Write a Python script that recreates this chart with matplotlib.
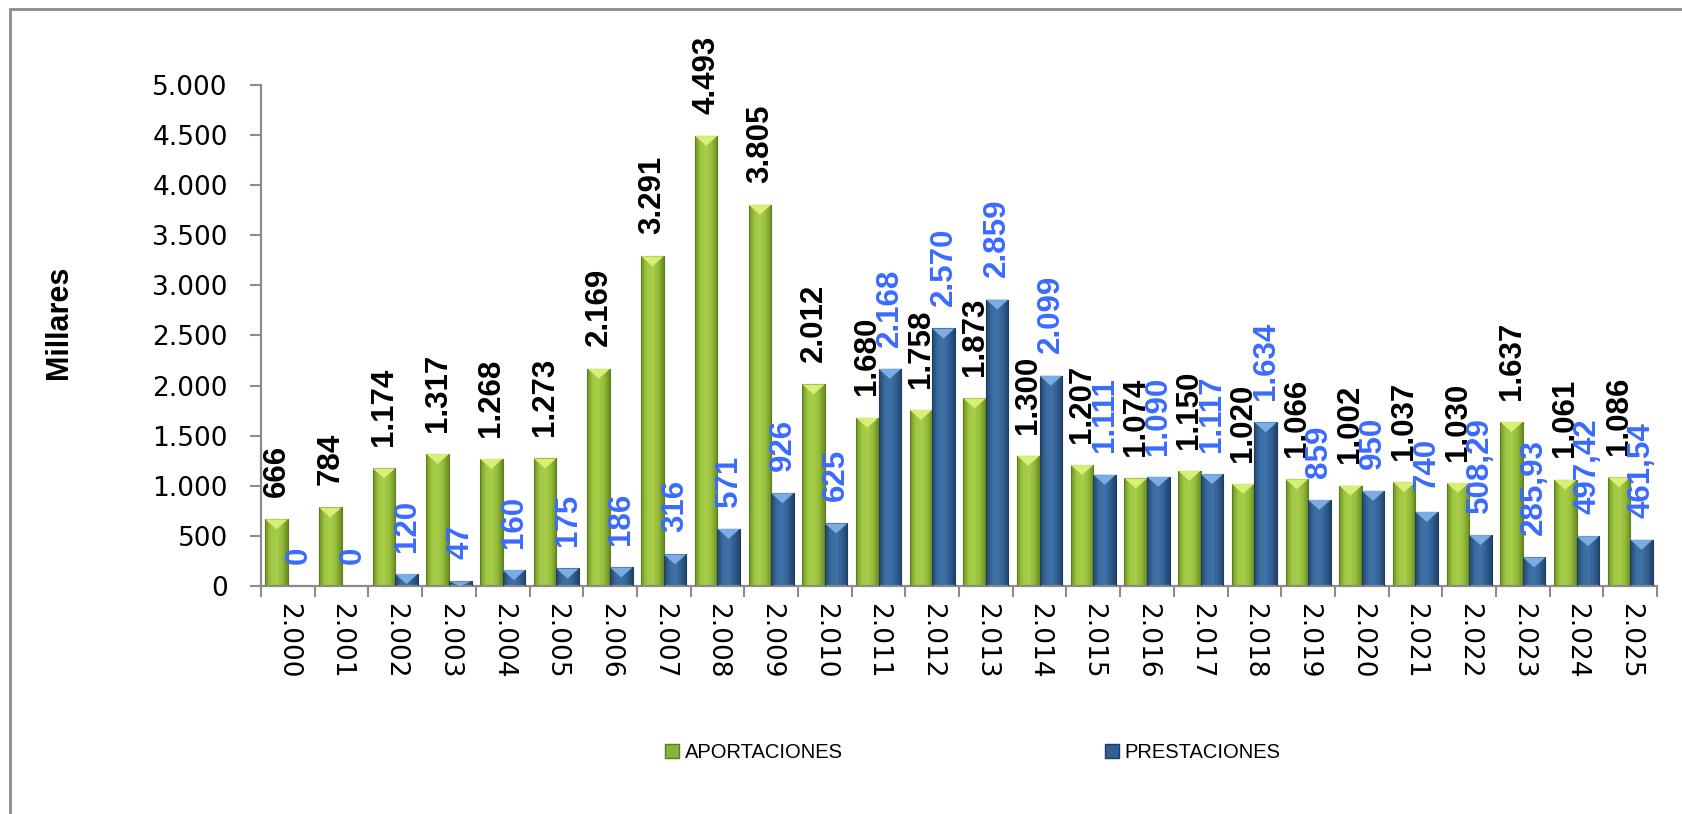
import numpy as np
import matplotlib
matplotlib.use("Agg")
import matplotlib.pyplot as plt
from matplotlib.patches import Rectangle, Polygon
from matplotlib.colors import LinearSegmentedColormap

# Datos (miles de euros)
years = list(range(2000, 2026))
aportaciones = [666, 784, 1174, 1317, 1268, 1273, 2169, 3291, 4493, 3805, 2012,
                1680, 1758, 1873, 1300, 1207, 1074, 1150, 1020, 1066, 1002,
                1037, 1030, 1637, 1061, 1086]
prestaciones = [0, 0, 120, 47, 160, 175, 186, 316, 571, 926, 625,
                2168, 2570, 2859, 2099, 1111, 1090, 1117, 1634, 859, 950,
                740, 508.29, 285.93, 497.42, 461.54]
y_ticks = [0, 500, 1000, 1500, 2000, 2500, 3000, 3500, 4000, 4500, 5000]
series_names = ["APORTACIONES", "PRESTACIONES"]


def es_num(v):
    # formato español: punto de miles, coma decimal
    if float(v).is_integer():
        return f"{int(v):,}".replace(",", ".")
    s = f"{v:,.2f}"
    return s.replace(",", "X").replace(".", ",").replace("X", ".")


GRAY = "#8c8c8c"
green_cmap = LinearSegmentedColormap.from_list(
    "g", ["#6f9324", "#a0c842", "#a8ce4a", "#94bb3a", "#6a8c21"])
blue_cmap = LinearSegmentedColormap.from_list(
    "b", ["#22466f", "#3a6ca0", "#3f72a8", "#315f92", "#21436b"])

fig = plt.figure(figsize=(16.83, 8.14), dpi=100)
ax = fig.add_axes([0.1551, 0.2801, 0.8295, 0.6155])

x = np.arange(len(years))
w = 0.42
bevel = 100

series = [
    (aportaciones, -w / 2, green_cmap, "#5d7d1c", "#dcf27a", "black"),
    (prestaciones, w / 2, blue_cmap, "#1f3d61", "#7fb0e8", "#3a6bff"),
]

grad = np.linspace(0, 1, 64).reshape(1, -1)
for vals, off, cmap, edge, top_col, lab_col in series:
    bars = ax.bar(x + off, vals, w, facecolor="none", edgecolor=edge,
                  linewidth=0.8, zorder=3)
    for rect, v in zip(bars, vals):
        if v <= 0:
            continue
        x0, bw, h = rect.get_x(), rect.get_width(), rect.get_height()
        im = ax.imshow(grad, extent=[x0, x0 + bw, 0, h], aspect="auto",
                       cmap=cmap, zorder=2, interpolation="bilinear")
        im.set_clip_path(rect)
        d = min(bevel, h)
        tri = Polygon([(x0, h), (x0 + bw, h), (x0 + bw / 2, h - d)],
                      closed=True, facecolor=top_col, edgecolor="none",
                      alpha=0.95, zorder=4)
        ax.add_patch(tri)
    for xi, v in zip(x + off, vals):
        ax.annotate(es_num(v), (xi, v), xytext=(0, 16),
                    textcoords="offset points", rotation=90,
                    ha="center", va="bottom", fontsize=22.5,
                    fontweight="bold", color=lab_col,
                    family="Liberation Sans", zorder=5,
                    annotation_clip=False)

ax.set_xlim(-0.5, len(years) - 0.5)
ax.set_ylim(0, 5000)
ax.set_yticks(y_ticks)
ax.set_yticklabels([es_num(t) for t in y_ticks], fontsize=19,
                   family="DejaVu Sans")
ax.set_xticks(x)
ax.set_xticklabels([es_num(yr) for yr in years], rotation=270, fontsize=19,
                   family="DejaVu Sans")
ax.set_xticks(np.arange(len(years) + 1) - 0.5, minor=True)
ax.tick_params(axis="x", which="major", length=0, pad=12)
ax.tick_params(axis="x", which="minor", length=8, width=1.5, color=GRAY)
ax.tick_params(axis="y", length=8, width=1.5, color=GRAY, pad=16)

for s in ["top", "right"]:
    ax.spines[s].set_visible(False)
for s in ["left", "bottom"]:
    ax.spines[s].set_color(GRAY)
    ax.spines[s].set_linewidth(1.6)

fig.text(0.035, 0.604, "Millares", rotation=90, ha="center", va="center",
         fontsize=22, fontweight="bold", family="Liberation Sans")

handles = [Rectangle((0, 0), 1, 1, facecolor="#8cb43a", edgecolor="#5d7d1c"),
           Rectangle((0, 0), 1, 1, facecolor="#2f5f94", edgecolor="#1f3d61")]
fig.legend(handles, series_names, loc="center", bbox_to_anchor=(0.578, 0.075),
           ncol=2, frameon=False, columnspacing=13, handlelength=0.7,
           handleheight=0.7, handletextpad=0.3,
           prop={"family": "Liberation Sans", "size": 14.5})

# marco exterior del gráfico
frame = Rectangle((0.0059, -0.2), 1.5, 0.989 + 0.2, transform=fig.transFigure,
                  fill=False, edgecolor=GRAY, linewidth=2.0)
fig.add_artist(frame)

fig.savefig("out.png", dpi=100, facecolor="white")
